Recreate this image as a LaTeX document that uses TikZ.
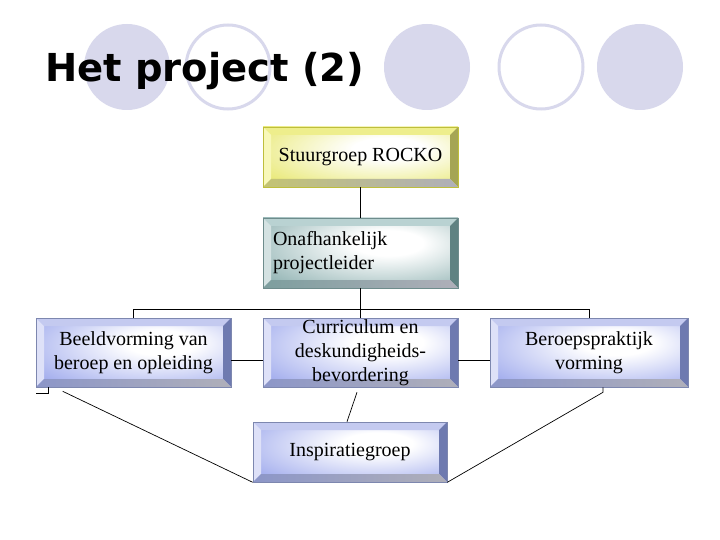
\documentclass[tikz,border=0pt]{standalone}
\usepackage{fontspec}
\setmainfont{Liberation Serif}
\newfontfamily\titlefont{DejaVu Sans}
\definecolor{circ}{RGB}{216,216,236}
% blue
\definecolor{btop}{RGB}{196,202,240}
\definecolor{bleft}{RGB}{222,225,248}
\definecolor{bright}{RGB}{110,122,176}
\definecolor{bbot}{RGB}{140,150,200}
\definecolor{bborder}{RGB}{125,135,175}
% yellow
\definecolor{ytop}{RGB}{238,238,140}
\definecolor{yleft}{RGB}{248,248,185}
\definecolor{yright}{RGB}{165,165,85}
\definecolor{ybot}{RGB}{195,195,115}
\definecolor{yborder}{RGB}{190,190,60}
% teal
\definecolor{ttop}{RGB}{185,210,210}
\definecolor{tleft}{RGB}{212,226,226}
\definecolor{tright}{RGB}{95,130,130}
\definecolor{tbot}{RGB}{125,158,158}
\definecolor{tborder}{RGB}{110,140,140}
\definecolor{greyb}{RGB}{175,175,185}
\pgfdeclareradialshading{bface}{\pgfpoint{8bp}{8bp}}{color(0bp)=(white); color(9bp)=(white); color(40bp)=(rgb,255:red,150;green,162;blue,235); color(80bp)=(rgb,255:red,150;green,162;blue,235)}
\pgfdeclareradialshading{yface}{\pgfpoint{8bp}{8bp}}{color(0bp)=(white); color(9bp)=(white); color(40bp)=(rgb,255:red,230;green,230;blue,100); color(80bp)=(rgb,255:red,230;green,230;blue,100)}
\pgfdeclareradialshading{tface}{\pgfpoint{8bp}{8bp}}{color(0bp)=(white); color(9bp)=(white); color(40bp)=(rgb,255:red,135;green,172;blue,172); color(80bp)=(rgb,255:red,135;green,172;blue,172)}
\tikzset{
  bevel/.style n args={5}{draw=#5, line width=0.6pt, path picture={
    \fill[#1] (path picture bounding box.north west) -- (path picture bounding box.north east)
      -- ([shift={(-8pt,-8pt)}]path picture bounding box.north east)
      -- ([shift={(8pt,-8pt)}]path picture bounding box.north west) -- cycle;
    \fill[#2] (path picture bounding box.north west) -- ([shift={(8pt,-8pt)}]path picture bounding box.north west)
      -- ([shift={(8pt,8pt)}]path picture bounding box.south west)
      -- (path picture bounding box.south west) -- cycle;
    \fill[#3] (path picture bounding box.north east) -- ([shift={(-8pt,-8pt)}]path picture bounding box.north east)
      -- ([shift={(-8pt,8pt)}]path picture bounding box.south east)
      -- (path picture bounding box.south east) -- cycle;
    \shade[left color=#4, right color=greyb] (path picture bounding box.south west) -- ([shift={(8pt,8pt)}]path picture bounding box.south west)
      -- ([shift={(-8pt,8pt)}]path picture bounding box.south east)
      -- (path picture bounding box.south east) -- cycle;
  }},
  boxbase/.style={rectangle, inner sep=0pt, font=\fontsize{20}{24}\selectfont, align=center},
  bluebox/.style={boxbase, shading=bface, bevel={btop}{bleft}{bright}{bbot}{bborder}},
  yellowbox/.style={boxbase, shading=yface, bevel={ytop}{yleft}{yright}{ybot}{yborder}},
  tealbox/.style={boxbase, shading=tface, bevel={ttop}{tleft}{tright}{tbot}{tborder}},
  conn/.style={draw=black, line width=0.7pt},
  dot/.style={fill=circ},
  ring/.style={draw=circ, line width=3pt},
}
\begin{document}
\begin{tikzpicture}[x=1pt, y=-1pt]
\fill[white] (0,0) rectangle (720,540);
\useasboundingbox (0,0) rectangle (720,540);
% decorative circles
\fill[dot] (127,67) circle[radius=43];
\draw[ring] (228,67) circle[radius=42];
\fill[dot] (427,67) circle[radius=43];
\draw[ring] (541,67) circle[radius=42];
\fill[dot] (640,67) circle[radius=43];
% title
\node[anchor=base west, inner sep=0pt, font=\titlefont\bfseries\fontsize{38.5}{44}\selectfont] (title) at (45,82) {Het project (2)};
% boxes
\node[yellowbox, minimum width=195pt, minimum height=60pt] (stuur) at (360.5,157) {Stuurgroep ROCKO};
\node[tealbox, minimum width=195pt, minimum height=70pt, inner xsep=10pt, text width=175pt, align=left] (onaf) at (360.5,253) {Onafhankelijk\\projectleider};
\node[bluebox, minimum width=195pt, minimum height=69pt] (beeld) at (133.5,352.5) {Beeldvorming van\\beroep en opleiding};
\node[bluebox, minimum width=195pt, minimum height=69pt] (cur) at (360.5,352.5) {Curriculum en\\deskundigheids-\\bevordering};
\node[bluebox, minimum width=198pt, minimum height=69pt] (beroep) at (589,352.5) {\raisebox{4pt}{\begin{tabular}{@{}c@{}}Beroepspraktijk\\vorming\end{tabular}}};
\node[bluebox, minimum width=194pt, minimum height=60pt] (insp) at (350,452) {Inspiratiegroep};
% connectors
\coordinate (bus) at (360.5,309);
\draw[conn] (stuur.south) -- (onaf.north);
\draw[conn] (onaf.south) -- (bus);
\draw[conn] (beeld.north) -- (beeld.north |- bus) -- (beroep.north |- bus) -- (beroep.north);
\draw[conn] (bus) -- (cur.north);
\draw[conn] ([yshift=-7.5pt]beeld.east) -- ([yshift=-7.5pt]cur.west);
\draw[conn] ([yshift=-7.5pt]cur.east) -- ([yshift=-7.5pt]beroep.west);
\draw[conn] ([xshift=13pt]beeld.south west) -- ++(0,6) -- ++(-13,0);
\draw[conn] ([xshift=27pt,yshift=-4pt]beeld.south west) -- (insp.south west);
\draw[conn] ([xshift=-3.5pt,yshift=-5pt]cur.south) -- ([xshift=-3pt]insp.north);
\draw[conn] ([xshift=14pt]beroep.south) -- ++(0,5) -- (insp.south east);
\end{tikzpicture}
\end{document}
